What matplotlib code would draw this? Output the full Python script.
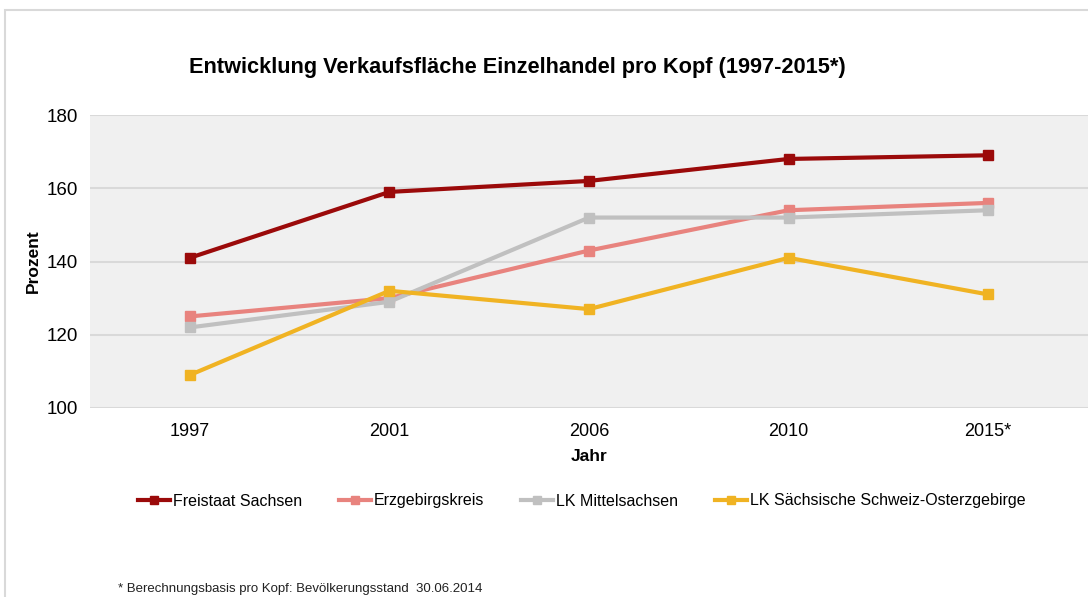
import matplotlib.pyplot as plt
from matplotlib.patches import Rectangle

plt.rcParams['font.family'] = ['Liberation Sans', 'DejaVu Sans']

years = ['1997', '2001', '2006', '2010', '2015*']
freistaat = [141, 159, 162, 168, 169]
erzgebirge = [125, 130, 143, 154, 156]
mittelsachsen = [122, 129, 152, 152, 154]
schweiz = [109, 132, 127, 141, 131]

series = [
    ('Freistaat Sachsen', freistaat, '#9b0a0a'),
    ('Erzgebirgskreis', erzgebirge, '#e8837e'),
    ('LK Mittelsachsen', mittelsachsen, '#c0c0c0'),
    ('LK Sächsische Schweiz-Osterzgebirge', schweiz, '#f0b323'),
]

fig = plt.figure(figsize=(10.88, 5.97), dpi=100)
# thin frame around the chart like the screenshot
fig.patches.append(Rectangle((5 / 1088, -0.1), 1.2, 1 - 10 / 597 + 0.1,
                             transform=fig.transFigure, fill=False,
                             edgecolor='#d9d9d9', linewidth=1.5))

ax = fig.add_axes([90 / 1088, 1 - 408 / 597, 1 - 90 / 1088, (408 - 115) / 597])
ax.set_facecolor('#f0f0f0')
x = range(len(years))
for name, vals, col in series:
    ax.plot(x, vals, color=col, linewidth=3, marker='s', markersize=7,
            label=name, solid_joinstyle='miter')

ax.set_xlim(-0.5, len(years) - 0.5)
ax.set_ylim(100, 180)
ax.set_yticks([100, 120, 140, 160, 180])
ax.set_xticks(list(x))
ax.set_xticklabels(years)
ax.grid(axis='y', color='#d9d9d9', linewidth=1.5)
ax.set_axisbelow(True)
for s in ax.spines.values():
    s.set_visible(False)
ax.tick_params(axis='x', length=0, labelsize=13, pad=11)
ax.tick_params(axis='y', length=0, labelsize=13.5, pad=9)
ax.set_ylabel('Prozent', fontsize=12.5, fontweight='bold', labelpad=4)
ax.set_xlabel('Jahr', fontsize=12.5, fontweight='bold', labelpad=6)

fig.text(517 / 1088, 1 - 68 / 597,
         'Entwicklung Verkaufsfläche Einzelhandel pro Kopf (1997-2015*)',
         ha='center', va='center', fontsize=15.7, fontweight='bold')

fig.legend(loc='center', bbox_to_anchor=(582 / 1088, 1 - 501 / 597), ncol=4,
           frameon=False, fontsize=11.5, handlelength=2, handletextpad=0.2,
           columnspacing=2.3, markerscale=0.8)

fig.text(118 / 1088, 1 - 589 / 597,
         '* Berechnungsbasis pro Kopf: Bevölkerungsstand  30.06.2014',
         ha='left', va='center', fontsize=9.5, color='#222222')

fig.savefig('out.png', dpi=100)
